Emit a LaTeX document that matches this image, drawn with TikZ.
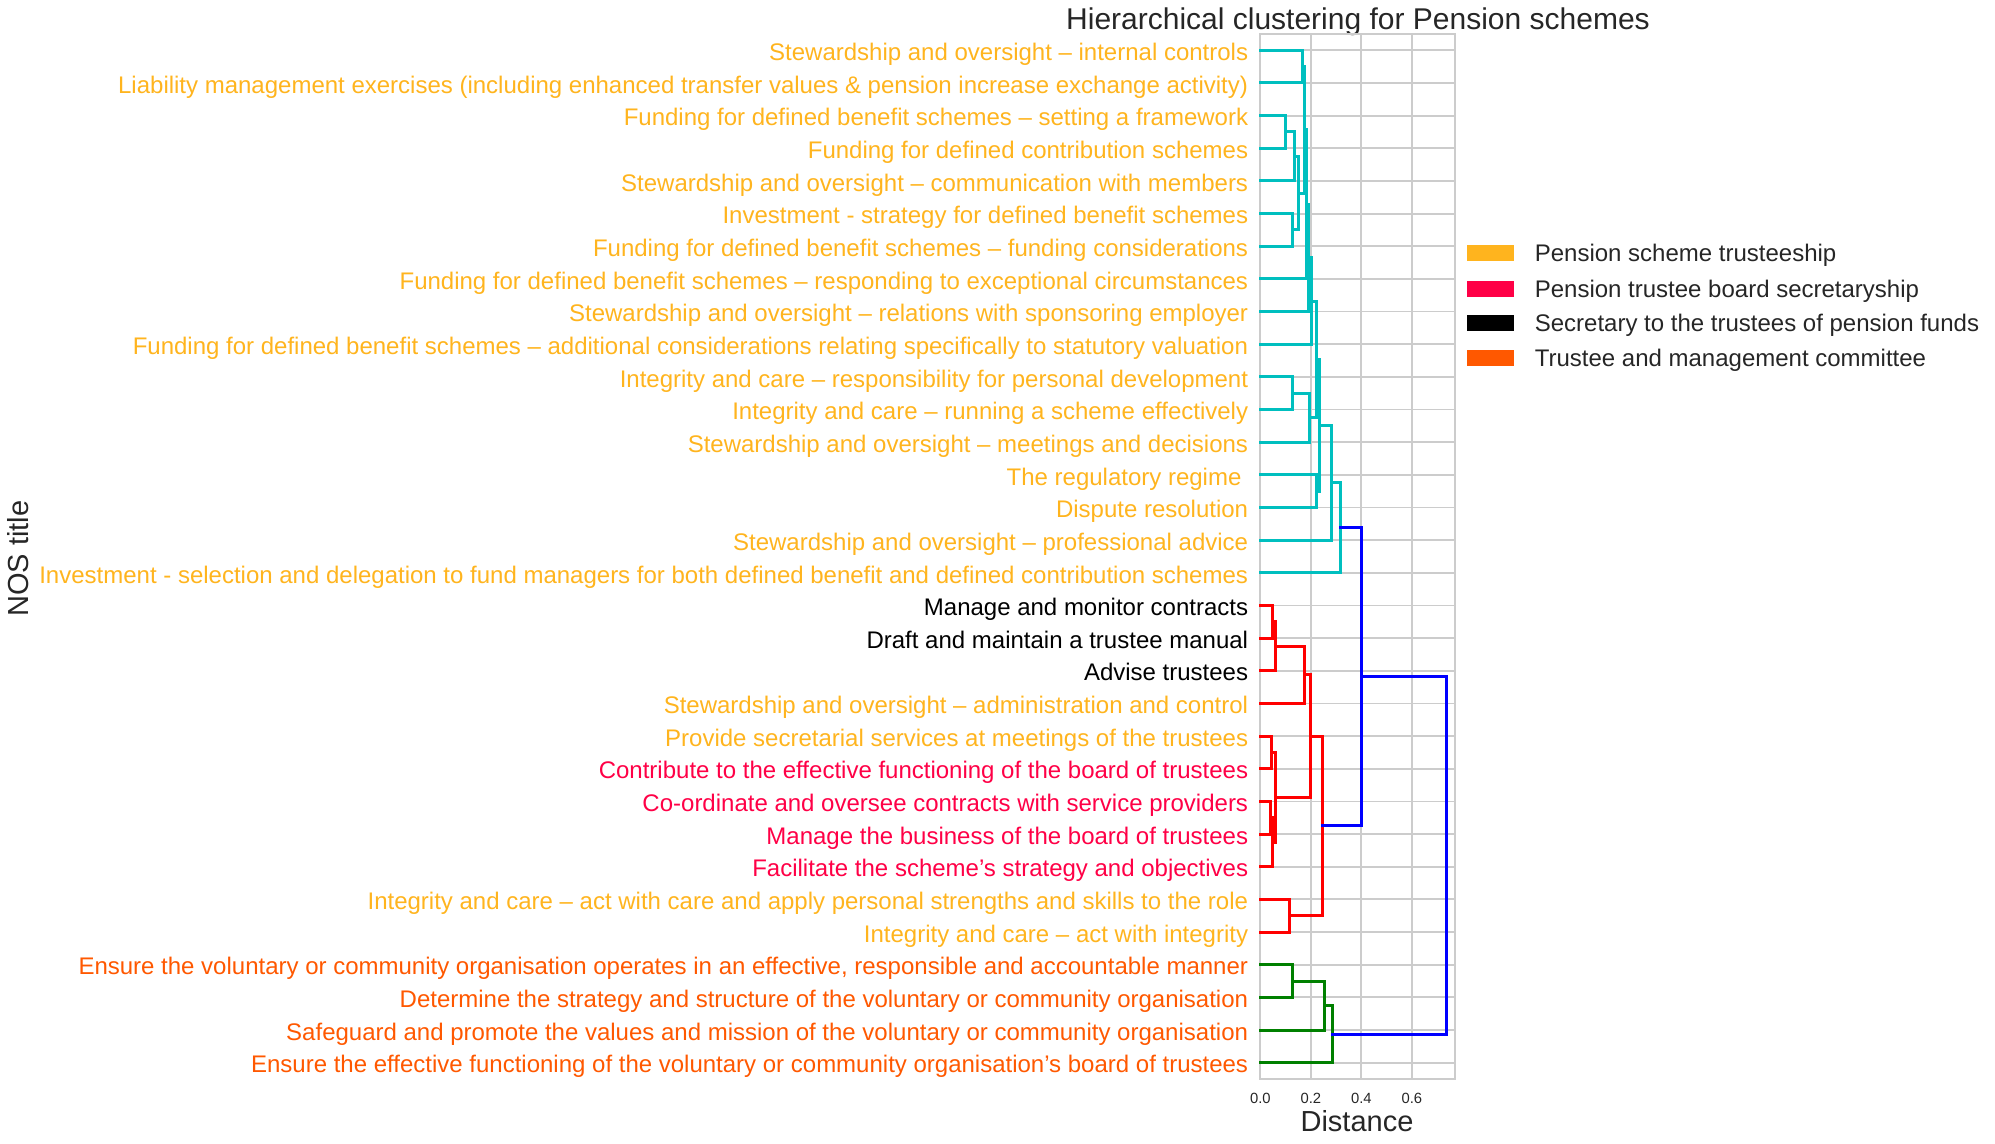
\documentclass[tikz,border=0pt]{standalone}
\usepackage{fontspec}
\setmainfont{Liberation Sans}
\usepackage{xcolor}
\usepackage{tikz}
\usetikzlibrary{positioning}
\definecolor{trusteeship}{RGB}{255,180,30}
\definecolor{secretaryship}{RGB}{255,0,70}
\definecolor{funds}{RGB}{0,0,0}
\definecolor{committee}{RGB}{255,88,0}
\definecolor{axisgray}{RGB}{38,38,38}
\definecolor{gridgray}{RGB}{204,204,204}
\definecolor{clcyan}{RGB}{0,191,191}
\definecolor{clred}{RGB}{255,0,0}
\definecolor{clgreen}{RGB}{0,128,0}
\definecolor{clblue}{RGB}{0,0,255}

\begin{document}
\begin{tikzpicture}[x=0.5pt,y=-0.5pt,
  every node/.style={font=\fontsize{12}{14}\selectfont,inner sep=0pt},
  gridline/.style={draw=gridgray,line width=0.9pt},
  link/.style={line width=1.5pt,line cap=rect},
  legbox/.style={minimum width=23.5pt,minimum height=8pt}]
  \useasboundingbox (0,0) rectangle (1995,1144);

  % title and axis labels
  \node[font=\fontsize{15}{17}\selectfont,text=axisgray,anchor=base] (title) at (1358,29.5)
    {Hierarchical clustering for Pension schemes};
  \node[font=\fontsize{14.5}{16}\selectfont,text=axisgray,anchor=base] (xlab) at (1357,1131.5) {Distance};
  \node[font=\fontsize{14.5}{16}\selectfont,text=axisgray,anchor=base,rotate=90] (ylab) at (28.3,558.5) {NOS title};

  % grid, one line per leaf
  \foreach \i in {1,...,32} {
    \pgfmathsetmacro\ly{34+(\i-0.5)*32.656}
    \draw[gridline] (1260.3,\ly) -- (1455.3,\ly);
  }
  \foreach \d in {0.2,0.4,0.6} {
    \pgfmathsetmacro\gx{1260.3+252.5*\d}
    \draw[gridline] (\gx,34) -- (\gx,1079);
    \node[font=\fontsize{7.4}{9}\selectfont,text=axisgray,anchor=base] at (\gx,1103) {\d};
  }
  \node[font=\fontsize{7.4}{9}\selectfont,text=axisgray,anchor=base] at (1260.3,1103) {0.0};
  \draw[gridline] (1260.3,34) rectangle (1455.3,1079);

  % dendrogram links: colour / y1 / d1 / y2 / d2 / height
  \begin{scope}[shift={(630.15pt,-8.835pt)},x=126.25pt,y=-16.328pt]
    \foreach \c/\ya/\da/\yb/\db/\h in {
      clcyan/1/0/2/0/0.168, clcyan/3/0/4/0/0.098, clcyan/3.5/0.098/5/0/0.135,
      clcyan/6/0/7/0/0.128, clcyan/4.25/0.135/6.5/0.128/0.152,
      clcyan/1.5/0.168/5.375/0.152/0.173, clcyan/3.4375/0.173/8/0/0.184,
      clcyan/5.71875/0.184/9/0/0.192, clcyan/7.359375/0.192/10/0/0.202,
      clcyan/11/0/12/0/0.128, clcyan/11.5/0.128/13/0/0.194,
      clcyan/8.6796875/0.202/12.25/0.194/0.223, clcyan/14/0/15/0/0.221,
      clcyan/10.46484/0.223/14.5/0.221/0.236, clcyan/12.48242/0.236/16/0/0.283,
      clcyan/14.24121/0.283/17/0/0.318,
      clred/18/0/19/0/0.048, clred/18.5/0.048/20/0/0.060, clred/19.25/0.060/21/0/0.174,
      clred/22/0/23/0/0.045, clred/24/0/25/0/0.041, clred/24.5/0.041/26/0/0.048,
      clred/22.5/0.045/25.25/0.048/0.060, clred/20.125/0.174/23.875/0.060/0.197,
      clred/27/0/28/0/0.115, clred/22/0.197/27.5/0.115/0.246,
      clgreen/29/0/30/0/0.128, clgreen/29.5/0.128/31/0/0.254, clgreen/30.25/0.254/32/0/0.287,
      clblue/15.6206/0.318/24.75/0.246/0.400, clblue/20.1853/0.400/31.125/0.287/0.738} {
      \draw[link,\c] (\da,\ya) -- (\h,\ya) -- (\h,\yb) -- (\db,\yb);
    }
  \end{scope}

  % leaf labels, coloured by occupation
  \foreach \i/\c/\t in {
    1/trusteeship/{Stewardship and oversight – internal controls},
    2/trusteeship/{Liability management exercises (including enhanced transfer values \& pension increase exchange activity)},
    3/trusteeship/{Funding for defined benefit schemes – setting a framework},
    4/trusteeship/{Funding for defined contribution schemes},
    5/trusteeship/{Stewardship and oversight – communication with members},
    6/trusteeship/{Investment - strategy for defined benefit schemes},
    7/trusteeship/{Funding for defined benefit schemes – funding considerations},
    8/trusteeship/{Funding for defined benefit schemes – responding to exceptional circumstances},
    9/trusteeship/{Stewardship and oversight – relations with sponsoring employer},
    10/trusteeship/{Funding for defined benefit schemes – additional considerations relating specifically to statutory valuation},
    11/trusteeship/{Integrity and care – responsibility for personal development},
    12/trusteeship/{Integrity and care – running a scheme effectively},
    13/trusteeship/{Stewardship and oversight – meetings and decisions},
    14/trusteeship/{The regulatory regime\kern.278em},
    15/trusteeship/{Dispute resolution},
    16/trusteeship/{Stewardship and oversight – professional advice},
    17/trusteeship/{Investment - selection and delegation to fund managers for both defined benefit and defined contribution schemes},
    18/funds/{Manage and monitor contracts},
    19/funds/{Draft and maintain a trustee manual},
    20/funds/{Advise trustees},
    21/trusteeship/{Stewardship and oversight – administration and control},
    22/trusteeship/{Provide secretarial services at meetings of the trustees},
    23/secretaryship/{Contribute to the effective functioning of the board of trustees},
    24/secretaryship/{Co-ordinate and oversee contracts with service providers},
    25/secretaryship/{Manage the business of the board of trustees},
    26/secretaryship/{Facilitate the scheme’s strategy and objectives},
    27/trusteeship/{Integrity and care – act with care and apply personal strengths and skills to the role},
    28/trusteeship/{Integrity and care – act with integrity},
    29/committee/{Ensure the voluntary or community organisation operates in an effective, responsible and accountable manner},
    30/committee/{Determine the strategy and structure of the voluntary or community organisation},
    31/committee/{Safeguard and promote the values and mission of the voluntary or community organisation},
    32/committee/{Ensure the effective functioning of the voluntary or community organisation’s board of trustees}} {
    \pgfmathsetmacro\ly{34+(\i-0.5)*32.656+10.2}
    \node[text=\c,anchor=base east] (leaf\i) at (1248.5,\ly) {\t};
  }

  % legend
  \node[legbox,fill=trusteeship] (lg1) at (1490.5,253.2) {};
  \node[legbox,fill=secretaryship] (lg2) at (1490.5,288.6) {};
  \node[legbox,fill=funds] (lg3) at (1490.5,323.2) {};
  \node[legbox,fill=committee] (lg4) at (1490.5,357.6) {};
  \foreach \k/\t in {1/Pension scheme trusteeship,2/Pension trustee board secretaryship,
                     3/Secretary to the trustees of pension funds,4/Trustee and management committee} {
    \node[right=10pt of lg\k,anchor=base west,yshift=-4.3pt,text=axisgray] (lgt\k) {\t};
  }
\end{tikzpicture}
\end{document}
